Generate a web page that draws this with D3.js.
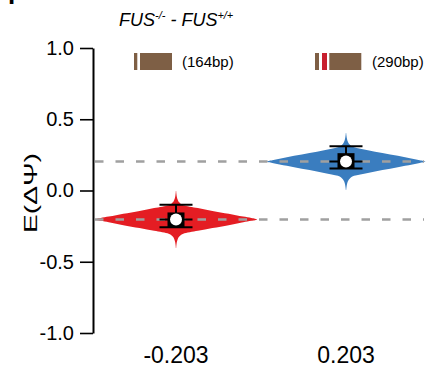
<!DOCTYPE html>
<html>
<head>
<meta charset="utf-8">
<script src="https://cdn.jsdelivr.net/npm/d3@7"></script>
<style>
  body { margin: 0; background: #fff; }
  svg { display: block; font-family: "Liberation Sans", Arial, sans-serif; }
</style>
</head>
<body>
<svg id="chart" width="429" height="376"></svg>
<script>
// chart data
var categories = ["-0.203", "0.203"];
var medians = [-0.203, 0.203];
var boxLow = [-0.258, 0.154];
var boxHigh = [-0.154, 0.262];
var whiskerHigh = [-0.100, 0.311];
var whiskerLow = [-0.258, 0.154];
var violinColors = ["#e41d23", "#3a7dbf"];
var exonLabels = ["(164bp)", "(290bp)"];
var yTicks = [-1, -0.5, 0, 0.5, 1];

// violin outline: distance from median (E(dPsi) units) and relative density
var violinOffsets = [0, 0.01, 0.02, 0.03, 0.04, 0.06, 0.08, 0.10, 0.12, 0.14, 0.16, 0.18, 0.20];
var redDensity  = [1.00, 0.93, 0.83, 0.74, 0.65, 0.45, 0.27, 0.09, 0.04, 0.02, 0.010, 0.005, 0.002];
var blueDensity = [0.98, 0.91, 0.82, 0.73, 0.64, 0.45, 0.27, 0.10, 0.045, 0.022, 0.012, 0.006, 0.002];
var densities = [redDensity, blueDensity];

var svg = d3.select("#chart");

var yScale = d3.scaleLinear()
    .domain([-1, 1])
    .range([333, 48]);

var xScale = d3.scalePoint()
    .domain(categories)
    .range([176, 346]);

var widthScale = d3.scaleLinear()
    .domain([0, 1])
    .range([0, 81]);

// cut-off panel letter
svg.append("text")
    .attr("x", 8).attr("y", -1)
    .attr("font-size", 26).attr("font-weight", "bold")
    .text("p");

// title
var title = svg.append("text")
    .attr("x", 119).attr("y", 26)
    .attr("font-size", 18).attr("font-style", "italic");
title.append("tspan").text("FUS");
title.append("tspan").attr("font-size", 11).attr("dy", -7).text("-/-");
title.append("tspan").attr("dy", 7).text(" - FUS");
title.append("tspan").attr("font-size", 11).attr("dy", -7).text("+/+");

// exon icons
var brown = "#7e5f45";
svg.append("rect").attr("x", 134).attr("y", 53).attr("width", 3.3).attr("height", 17).attr("fill", brown);
svg.append("rect").attr("x", 140).attr("y", 53).attr("width", 32).attr("height", 17).attr("fill", brown);
svg.append("rect").attr("x", 315).attr("y", 53).attr("width", 4).attr("height", 17).attr("fill", brown);
svg.append("rect").attr("x", 322).attr("y", 53).attr("width", 5).attr("height", 17).attr("fill", "#c8202f");
svg.append("rect").attr("x", 329.3).attr("y", 53).attr("width", 32).attr("height", 17).attr("fill", brown);
svg.append("text").attr("x", 182).attr("y", 67).attr("font-size", 15).text(exonLabels[0]);
svg.append("text").attr("x", 372).attr("y", 67).attr("font-size", 15).text(exonLabels[1]);

// violins
categories.forEach(function(c, i) {
    var pts = [];
    for (var k = violinOffsets.length - 1; k > 0; k--) {
        pts.push({v: medians[i] - violinOffsets[k], w: densities[i][k]});
    }
    for (var k = 0; k < violinOffsets.length; k++) {
        pts.push({v: medians[i] + violinOffsets[k], w: densities[i][k]});
    }
    var cx = xScale(c);
    var area = d3.area()
        .y(function(d) { return yScale(d.v); })
        .x0(function(d) { return cx - widthScale(d.w); })
        .x1(function(d) { return cx + widthScale(d.w); })
        .curve(d3.curveMonotoneY);
    svg.append("path")
        .datum(pts)
        .attr("d", area)
        .attr("fill", violinColors[i]);
});

// dashed reference lines at the medians
svg.selectAll(".refline")
    .data(medians)
    .enter().append("line")
    .attr("class", "refline")
    .attr("x1", 95).attr("x2", 424)
    .attr("y1", function(d) { return yScale(d); })
    .attr("y2", function(d) { return yScale(d); })
    .attr("stroke", "#a0a0a0")
    .attr("stroke-width", 2.5)
    .attr("stroke-dasharray", "8.5,12");

// whiskers, box and median marker
categories.forEach(function(c, i) {
    var cx = xScale(c);
    var g = svg.append("g");
    g.append("line")
        .attr("x1", cx).attr("x2", cx)
        .attr("y1", yScale(whiskerHigh[i])).attr("y2", yScale(whiskerLow[i]))
        .attr("stroke", "#000").attr("stroke-width", 2);
    [whiskerHigh[i], medians[i], whiskerLow[i]].forEach(function(v) {
        g.append("line")
            .attr("x1", cx - 16.5).attr("x2", cx + 16.5)
            .attr("y1", yScale(v)).attr("y2", yScale(v))
            .attr("stroke", "#000").attr("stroke-width", 2);
    });
    g.append("rect")
        .attr("x", cx - 8.5).attr("width", 17)
        .attr("y", yScale(boxHigh[i]))
        .attr("height", yScale(boxLow[i]) - yScale(boxHigh[i]))
        .attr("fill", "#000");
    g.append("circle")
        .attr("cx", cx).attr("cy", yScale(medians[i]))
        .attr("r", 6).attr("fill", "#fff");
});

// y axis
var yAxis = d3.axisLeft(yScale)
    .tickValues(yTicks)
    .tickFormat(function(d) { return d.toFixed(1); })
    .tickSize(13)
    .tickSizeOuter(0)
    .tickPadding(6);
var yg = svg.append("g")
    .attr("transform", "translate(93,0)")
    .call(yAxis);
yg.select(".domain").attr("stroke-width", 2);
yg.selectAll(".tick line").attr("stroke-width", 1.6);
yg.selectAll(".tick text")
    .attr("font-size", 20)
    .attr("font-family", "Liberation Sans, Arial, sans-serif")
    .attr("fill", "#000");

// y label
svg.append("text")
    .attr("transform", "translate(37,193) rotate(-90)")
    .attr("text-anchor", "middle")
    .attr("font-size", 18)
    .attr("textLength", 80)
    .attr("lengthAdjust", "spacingAndGlyphs")
    .text("E(ΔΨ)");

// x category labels
svg.selectAll(".xlab")
    .data(categories)
    .enter().append("text")
    .attr("class", "xlab")
    .attr("x", function(d) { return xScale(d); })
    .attr("y", 363)
    .attr("text-anchor", "middle")
    .attr("font-size", 23)
    .text(function(d) { return d; });
</script>
</body>
</html>
